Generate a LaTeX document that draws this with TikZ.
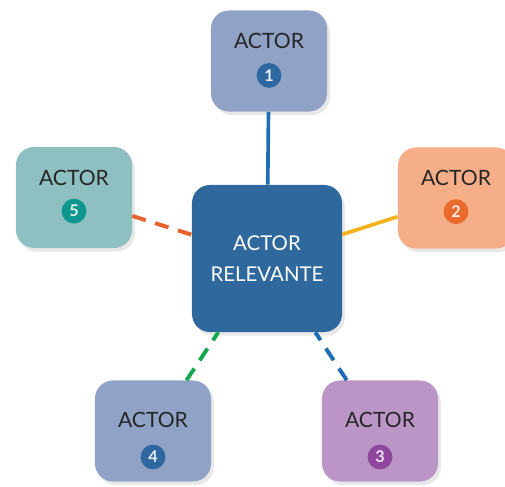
\documentclass[tikz,border=0pt]{standalone}
\usepackage{fontspec}
\setmainfont{Lato}
\usetikzlibrary{shadows}

\definecolor{boxblue}{HTML}{90A3C6}
\definecolor{boxorange}{HTML}{F6AE88}
\definecolor{boxviolet}{HTML}{BB95C6}
\definecolor{boxteal}{HTML}{8EBFC1}
\definecolor{mainblue}{HTML}{2F689D}
\definecolor{numblue}{HTML}{2F68A0}
\definecolor{numorange}{HTML}{EA6A2E}
\definecolor{numviolet}{HTML}{8E479C}
\definecolor{numteal}{HTML}{0E9690}
\definecolor{lineblue}{HTML}{1F6DB4}
\definecolor{lineyellow}{HTML}{F6B21B}
\definecolor{lineorange}{HTML}{E8632B}
\definecolor{linegreen}{HTML}{16A84E}

\tikzset{
  actor/.style={rounded corners=0.45cm, minimum width=2.9cm, minimum height=2.525cm,
    drop shadow={opacity=0.18, shadow xshift=0.07cm, shadow yshift=-0.09cm}},
  actorlabel/.style={font=\fontsize{15}{18}\selectfont, text=black!85},
  numdot/.style={circle, minimum size=0.62cm, inner sep=0pt,
    font=\fontsize{11.5}{12}\selectfont\bfseries, text=white!80!boxblue},
  link/.style={line width=2.6pt},
  dashlink/.style={line width=2.8pt, dash pattern=on 10pt off 7pt}
}

\begin{document}
\begin{tikzpicture}[x=0.025cm, y=-0.025cm]
    \useasboundingbox (0,0) rectangle (505,486);
    %% Draw the boxes
    \node[actor, fill=mainblue] (R) at (267,258.5) [minimum width=3.75cm, minimum height=3.675cm] {};
    \node[actor, fill=boxblue] (A1) at (269,61) {};
    \node[actor, fill=boxorange] (A2) at (456,198) {};
    \node[actor, fill=boxviolet] (A3) at (380,431) {};
    \node[actor, fill=boxblue] (A4) at (153,431) {};
    \node[actor, fill=boxteal] (A5) at (74,197.5) {};
    %% Draw the texts
    \node[font=\fontsize{14.5}{22.5}\selectfont, text=white, align=center] (RT) at (R.center) {ACTOR\\RELEVANTE};
    \node[actorlabel] (L1) at ([yshift=0.5cm]A1.center) {ACTOR};
    \node[actorlabel] (L2) at ([yshift=0.5cm]A2.center) {ACTOR};
    \node[actorlabel] (L3) at ([yshift=0.275cm]A3.center) {ACTOR};
    \node[actorlabel] (L4) at ([yshift=0.275cm]A4.center) {ACTOR};
    \node[actorlabel] (L5) at ([yshift=0.5cm]A5.center) {ACTOR};
    %% Draw the numbers
    \node[numdot, fill=numblue] (N1) at ([yshift=-0.36cm]A1.center) {1};
    \node[numdot, fill=numorange, text=white!75!boxorange] (N2) at ([yshift=-0.34cm]A2.center) {2};
    \node[numdot, fill=numviolet, text=white!75!boxviolet] (N3) at ([yshift=-0.65cm]A3.center) {3};
    \node[numdot, fill=numblue] (N4) at ([yshift=-0.65cm]A4.center) {4};
    \node[numdot, fill=numteal, text=white!75!boxteal] (N5) at ([yshift=-0.34cm]A5.center) {5};
    %% Draw the links
    \begin{scope}[every path/.style={line cap=butt}]
      \draw[link, lineblue] (A1) -- (R);
      \draw[link, lineyellow] (A2) -- (R);
      \draw[dashlink, lineblue] (A3) -- (R);
      \draw[dashlink, linegreen] (A4) -- (R);
      \draw[dashlink, lineorange] (A5) -- (R);
    \end{scope}
  \end{tikzpicture}
\end{document}
